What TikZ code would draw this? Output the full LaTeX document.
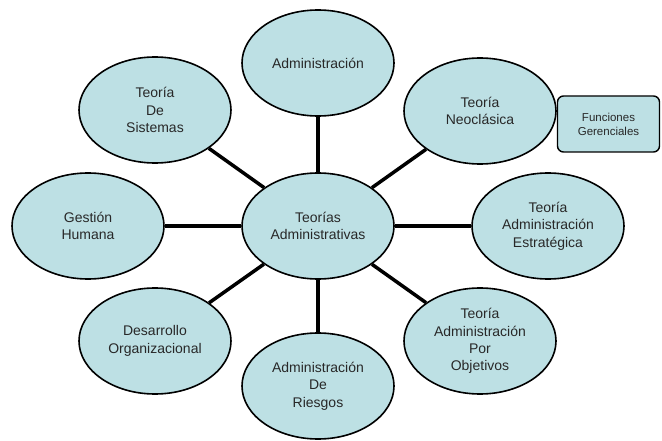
\documentclass[tikz,border=0pt]{standalone}
\usepackage{fontspec}
\setmainfont{Liberation Sans}
\usepackage{tikz}
\usetikzlibrary{arrows,positioning,shapes.geometric}
\usetikzlibrary{calc}
\definecolor{celeste}{RGB}{189,224,228}
\definecolor{texto}{RGB}{40,40,40}
\tikzset{
	%Define style for ellipses
	burbuja/.style={
		ellipse,
		draw=black, line width=1.6pt,
		fill=celeste,
		text=texto,
		minimum width=152pt,
		minimum height=106pt,
		inner sep=1pt,
		align=center,
		font=\fontsize{14}{17.3}\selectfont},
	%Define style for box
	caja/.style={
		rectangle,
		rounded corners=6pt,
		draw=black, line width=1.4pt,
		fill=celeste,
		text=texto,
		minimum width=102pt,
		minimum height=56pt,
		align=center,
		font=\fontsize{11.5}{14}\selectfont},
	% Define line style
	rayo/.style={
		line width=3.5pt}
}

\begin{document}
\begin{tikzpicture}
	\useasboundingbox (0,0) rectangle (662pt,440pt);
	% node centro
	\node[burbuja] (teorias) at (318pt,214pt) {Teorías\\Administrativas};
	% nodes alrededor
	\node[burbuja, on grid, above=163pt of teorias] (adm) {Administración};
	\node[burbuja, on grid, above right=115pt and 162pt of teorias] (neo) {Teoría\\Neoclásica};
	\node[burbuja, on grid, right=230pt of teorias] (estra) {Teoría\\Administración\\Estratégica};
	\node[burbuja, on grid, below right=115pt and 162pt of teorias] (obj) {Teoría\\Administración\\Por\\Objetivos};
	\node[burbuja, on grid, below=160pt of teorias] (riesgos) {Administración\\De\\Riesgos};
	\node[burbuja, on grid, below left=115pt and 163pt of teorias] (desa) {Desarrollo\\Organizacional};
	\node[burbuja, on grid, left=230pt of teorias] (gestion) {Gestión\\Humana};
	\node[burbuja, on grid, above left=116pt and 163pt of teorias] (sistemas) {Teoría\\De\\Sistemas};
	% caja Funciones
	\node[caja, right=0pt of neo, yshift=-13pt] (funciones) {Funciones\\Gerenciales};
	\foreach \n in {adm,neo,estra,obj,riesgos,desa,gestion,sistemas}
		\draw[rayo] (teorias) -- (\n);
\end{tikzpicture}
\end{document}
